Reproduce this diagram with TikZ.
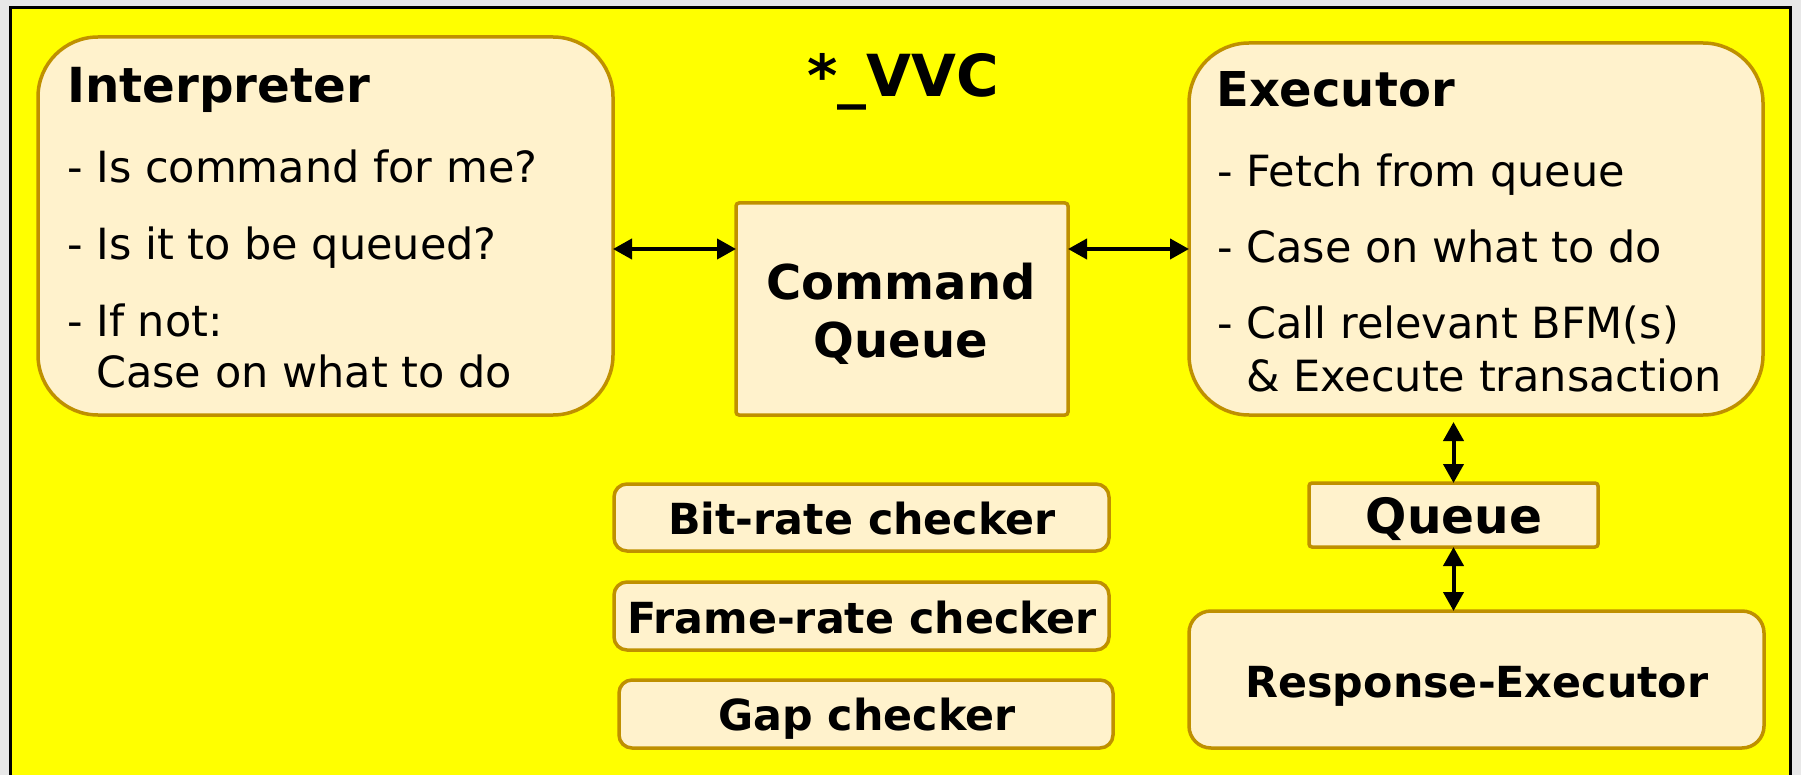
\documentclass[tikz,border=0pt]{standalone}
\usepackage{fontspec}
\setmainfont{DejaVu Sans}
\usetikzlibrary{arrows.meta}
\definecolor{bggray}{HTML}{E8E8E8}
\definecolor{vyellow}{HTML}{FFFF00}
\definecolor{cream}{HTML}{FFF2CC}
\definecolor{gold}{HTML}{BF9000}
\begin{document}
\begin{tikzpicture}[x=1pt,y=-1pt,
  box/.style={draw=gold, fill=cream, line width=3.5pt, inner sep=0pt, outer sep=0pt},
  body/.style={font=\fontsize{43}{50}\selectfont, inner sep=0pt, anchor=base west},
  head/.style={font=\fontsize{48.3}{56}\selectfont\bfseries, inner sep=0pt, anchor=base west},
  lbl/.style={font=\fontsize{42.8}{50}\selectfont\bfseries, inner sep=0pt, anchor=base},
  dbl/.style={line width=4pt, {Triangle[length=19pt,width=20pt]}-{Triangle[length=19pt,width=20pt]}}]
\useasboundingbox (0,0) rectangle (1801,775);
\begin{scope}
\clip (0,0) rectangle (1801,775);
\fill[bggray] (0,0) rectangle (1801,775);
\draw[fill=vyellow, line width=3.5pt] (10.5,7.5) rectangle (1790.5,800);
\end{scope}
% boxes
\node[box, minimum width=575pt, minimum height=378pt, rounded corners=60pt] (interp) at (325.5,226) {};
\node[box, minimum width=332pt, minimum height=212pt, rounded corners=3pt] (cmdq) at (902,309) {};
\node[box, minimum width=574pt, minimum height=372pt, rounded corners=60pt] (exec) at (1476,229) {};
\node[box, minimum width=289pt, minimum height=64pt, rounded corners=3pt] (queue) at (1453.5,515) {};
\node[box, minimum width=575pt, minimum height=137pt, rounded corners=22pt] (resp) at (1476.5,679.5) {};
\node[box, minimum width=495pt, minimum height=67pt, rounded corners=13pt] (bitrate) at (861.5,517.5) {};
\node[box, minimum width=495pt, minimum height=68pt, rounded corners=13pt] (framerate) at (861.5,616) {};
\node[box, minimum width=494pt, minimum height=68pt, rounded corners=13pt] (gap) at (866,714) {};
% box labels
\node[lbl, font=\fontsize{48}{57}\selectfont\bfseries] (cmdqa) at (901,300) {Command};
\node[lbl, font=\fontsize{48}{57}\selectfont\bfseries] (cmdqb) at (901,357) {Queue};
\node[lbl, font=\fontsize{48.6}{57}\selectfont\bfseries] (queuet) at (1454,533) {Queue};
\node[lbl] (respt) at (1477,697) {Response-Executor};
\node[lbl] (bitratet) at (862,534) {Bit-rate checker};
\node[lbl] (frameratet) at (862,633) {Frame-rate checker};
\node[lbl] (gapt) at (867,730) {Gap checker};
% title
\node[font=\fontsize{58}{64}\selectfont\bfseries, inner sep=0pt, anchor=base] (title) at (903,97) {*\_VVC};
% interpreter text
\node[head] (ihead) at (67,103) {Interpreter};
\node[body] (i1) at (67,183) {- Is command for me?};
\node[body] (i2) at (67,260) {- Is it to be queued?};
\node[body] (i3) at (67,337) {- If not:};
\node[body] (i4) at (96,388) {Case on what to do};
% executor text
\node[head, font=\fontsize{48}{56}\selectfont\bfseries] (ehead) at (1216,107) {Executor};
\node[body] (e1) at (1217,187) {- Fetch from queue};
\node[body] (e2) at (1217,263) {- Case on what to do};
\node[body] (e3) at (1217,339) {- Call relevant BFM(s)};
\node[body] (e4) at (1246,391) {\& Execute transaction};
% connectors
\draw[dbl] (interp.east |- 0,249) -- (cmdq.west |- 0,249);
\draw[dbl] (cmdq.east |- 0,249) -- (exec.west |- 0,249);
\draw[dbl, shorten <=7pt] (queue.north |- exec.south) -- (queue.north);
\draw[dbl] (queue.south) -- (queue.south |- resp.north);
\end{tikzpicture}
\end{document}
